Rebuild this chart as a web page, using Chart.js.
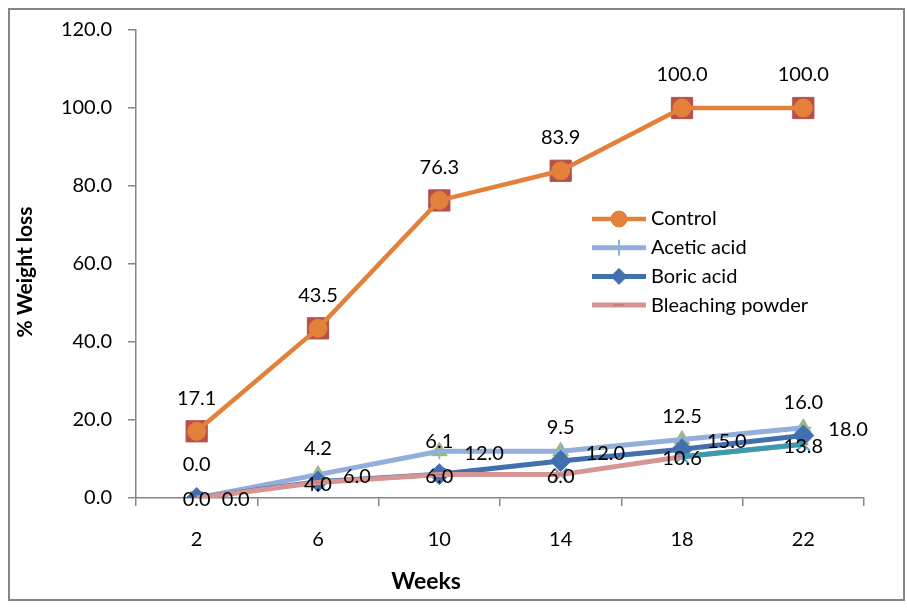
<!DOCTYPE html>
<html>
<head>
<meta charset="utf-8">
<title>% Weight loss by week</title>
<script src="https://cdn.jsdelivr.net/npm/chart.js@4.4.1/dist/chart.umd.min.js"></script>
<style>
  html, body { margin: 0; padding: 0; background: #ffffff; }
  canvas { display: block; }
</style>
</head>
<body>
<canvas id="chart" width="907" height="609"></canvas>
<script>
// ---- data ----
const weeks = ['2', '6', '10', '14', '18', '22'];
const control = [17.1, 43.5, 76.3, 83.9, 100.0, 100.0];
const aceticAcid = [0.0, 6.0, 12.0, 12.0, 15.0, 18.0];
const boricAcid = [0.0, 4.2, 6.1, 9.5, 12.5, 16.0];
const bleachingPowder = [0.0, 4.0, 6.0, 6.0, 10.6, 13.8];
const yTicks = [0, 20, 40, 60, 80, 100, 120];
const legendOrder = ['Control', 'Acetic acid', 'Boric acid', 'Bleaching powder'];

// ---- styles ----
const FONT_FAMILY = "Lato, 'Open Sans', 'Liberation Sans', sans-serif";
const TEXT_SIZE = 20;
const AXIS_GRAY = '#868686';

const C_CONTROL = '#E3803A';
const C_CONTROL_SQ = '#B5504B';
const C_ACETIC = '#92AEDA';
const C_BORIC = '#4270AE';
const C_BLEACH = '#D69594';
const C_TEAL = '#3A9BAF';
const C_TEAL_MARK = '#4BACC6';
const C_GREEN = '#9BBB59';

const datasets = [
  {
    label: 'Control', data: control, order: 0,
    borderColor: C_CONTROL, borderWidth: 4.5, backgroundColor: C_CONTROL,
    pointStyle: 'circle', pointRadius: 9, pointBackgroundColor: C_CONTROL,
    pointBorderColor: C_CONTROL, pointBorderWidth: 1, tension: 0,
    valueLabel: { dx: 0, dy: -33, align: 'center' }
  },
  {
    label: 'Control (square)', data: control, order: 1, showLine: false,
    pointStyle: 'rect', pointRadius: 15, pointBackgroundColor: C_CONTROL_SQ,
    pointBorderColor: C_CONTROL_SQ, pointBorderWidth: 1
  },
  {
    label: 'Bleaching powder (end)', data: bleachingPowder, order: 2,
    borderColor: C_TEAL, borderWidth: 5, pointRadius: 0, tension: 0,
    segment: { borderColor: c => (c.p0DataIndex >= 4 ? C_TEAL : 'rgba(0,0,0,0)') }
  },
  {
    label: 'Bleaching powder', data: bleachingPowder, order: 3,
    borderColor: C_BLEACH, borderWidth: 5, backgroundColor: C_BLEACH,
    pointStyle: 'line', pointRadius: 5, pointBorderColor: '#C97C7A',
    pointBorderWidth: 2, tension: 0,
    valueLabel: { dx: 0, dy: 2, align: 'center' }
  },
  {
    label: 'Boric acid', data: boricAcid, order: 4,
    borderColor: C_BORIC, borderWidth: 5, backgroundColor: C_BORIC,
    pointStyle: 'rectRot', pointRadius: 10.5, pointBackgroundColor: C_BORIC,
    pointBorderColor: C_BORIC, pointBorderWidth: 1, tension: 0,
    valueLabel: { dx: 0, dy: -33, align: 'center' }
  },
  {
    label: 'Acetic acid', data: aceticAcid, order: 5,
    borderColor: C_ACETIC, borderWidth: 5, backgroundColor: C_ACETIC,
    pointStyle: 'cross', pointRadius: 8, pointBorderColor: C_ACETIC,
    pointBorderWidth: 2, tension: 0,
    valueLabel: { dx: 25, dy: 2, align: 'left' }
  },
  {
    label: 'Acetic acid (triangle)', data: aceticAcid, order: 6, showLine: false,
    pointStyle: 'triangle', pointRadius: 9, pointBackgroundColor: C_GREEN,
    pointBorderColor: C_GREEN, pointBorderWidth: 1
  },
  {
    label: 'Bleaching powder (cross)', data: bleachingPowder, order: 7, showLine: false,
    pointStyle: 'crossRot', pointRadius: 9, pointBorderColor: C_TEAL_MARK,
    pointBorderWidth: 2
  }
];

// value labels drawn next to each point of the labelled series
const valueLabels = {
  id: 'valueLabels',
  afterDatasetsDraw(chart) {
    const ctx = chart.ctx;
    ctx.save();
    ctx.font = `${TEXT_SIZE}px ${FONT_FAMILY}`;
    ctx.fillStyle = '#000000';
    ctx.textBaseline = 'middle';
    chart.data.datasets.forEach((ds, i) => {
      if (!ds.valueLabel) return;
      const meta = chart.getDatasetMeta(i);
      ctx.textAlign = ds.valueLabel.align;
      meta.data.forEach((pt, j) => {
        const v = ds.data[j];
        if (v === null || v === undefined) return;
        ctx.fillText(v.toFixed(1), pt.x + ds.valueLabel.dx, pt.y + ds.valueLabel.dy);
      });
    });
    ctx.restore();
  }
};

// legend placed inside the plot, right of centre
const insideLegend = {
  id: 'insideLegend',
  afterDraw(chart, args, opts) {
    const ctx = chart.ctx;
    const byLabel = new Map(chart.data.datasets.map(d => [d.label, d]));
    ctx.save();
    ctx.font = `${TEXT_SIZE}px ${FONT_FAMILY}`;
    ctx.textBaseline = 'middle';
    ctx.textAlign = 'left';
    legendOrder.forEach((name, k) => {
      const ds = byLabel.get(name);
      if (!ds) return;
      const y = opts.y + k * opts.rowHeight;
      ctx.strokeStyle = ds.borderColor;
      ctx.lineWidth = ds.borderWidth;
      ctx.beginPath();
      ctx.moveTo(opts.x, y);
      ctx.lineTo(opts.x + opts.lineLength, y);
      ctx.stroke();
      const mx = opts.x + opts.lineLength / 2;
      const pointOpts = {
        pointStyle: ds.pointStyle,
        radius: Math.min(ds.pointRadius, 8),
        borderWidth: ds.pointBorderWidth,
        rotation: 0
      };
      ctx.fillStyle = ds.pointBackgroundColor || ds.borderColor;
      ctx.strokeStyle = ds.pointBorderColor || ds.borderColor;
      ctx.lineWidth = ds.pointBorderWidth;
      Chart.helpers.drawPoint(ctx, pointOpts, mx, y);
      ctx.fillStyle = '#000000';
      ctx.fillText(ds.label, opts.x + opts.lineLength + opts.gap, y);
    });
    ctx.restore();
  }
};

// axis titles and the outer chart frame
const frameAndTitles = {
  id: 'frameAndTitles',
  afterDraw(chart, args, opts) {
    const ctx = chart.ctx;
    ctx.save();
    ctx.strokeStyle = AXIS_GRAY;
    ctx.lineWidth = 2;
    ctx.strokeRect(9, 9, 895, 591);
    ctx.fillStyle = '#000000';
    ctx.textAlign = 'center';
    ctx.textBaseline = 'middle';
    ctx.font = `bold ${opts.xTitleSize}px ${FONT_FAMILY}`;
    ctx.fillText(opts.xTitle, opts.xTitleX, opts.xTitleY);
    ctx.font = `bold ${opts.yTitleSize}px ${FONT_FAMILY}`;
    ctx.translate(opts.yTitleX, opts.yTitleY);
    ctx.rotate(-Math.PI / 2);
    ctx.fillText(opts.yTitle, 0, 0);
    ctx.restore();
  }
};

new Chart(document.getElementById('chart'), {
  type: 'line',
  data: { labels: weeks, datasets },
  plugins: [valueLabels, insideLegend, frameAndTitles],
  options: {
    responsive: false,
    animation: false,
    devicePixelRatio: 1,
    layout: { padding: { left: 8, right: 43, top: 30, bottom: 8 } },
    plugins: {
      legend: { display: false },
      tooltip: { enabled: false },
      insideLegend: { x: 592, y: 219, rowHeight: 28.7, lineLength: 54, gap: 5 },
      frameAndTitles: {
        xTitle: 'Weeks', xTitleX: 426, xTitleY: 582, xTitleSize: 23,
        yTitle: '% Weight loss', yTitleX: 25, yTitleY: 272, yTitleSize: 21
      }
    },
    scales: {
      x: {
        type: 'category',
        offset: true,
        grid: {
          offset: true, drawOnChartArea: false, drawTicks: true,
          tickLength: 8, color: AXIS_GRAY, lineWidth: 1.5
        },
        border: { color: AXIS_GRAY, width: 1.5 },
        ticks: {
          padding: 22, color: '#000000', autoSkip: false, maxRotation: 0,
          font: { family: FONT_FAMILY, size: TEXT_SIZE }
        },
        afterFit: s => { s.height = 103; }
      },
      y: {
        min: 0, max: 120,
        afterBuildTicks: s => { s.ticks = yTicks.map(v => ({ value: v })); },
        grid: {
          drawOnChartArea: false, drawTicks: true,
          tickLength: 8, color: AXIS_GRAY, lineWidth: 1.5
        },
        border: { color: AXIS_GRAY, width: 1.5 },
        ticks: {
          padding: 16, color: '#000000',
          font: { family: FONT_FAMILY, size: TEXT_SIZE },
          callback: v => Number(v).toFixed(1)
        },
        afterFit: s => { s.width = 128; }
      }
    }
  }
});
</script>
</body>
</html>
